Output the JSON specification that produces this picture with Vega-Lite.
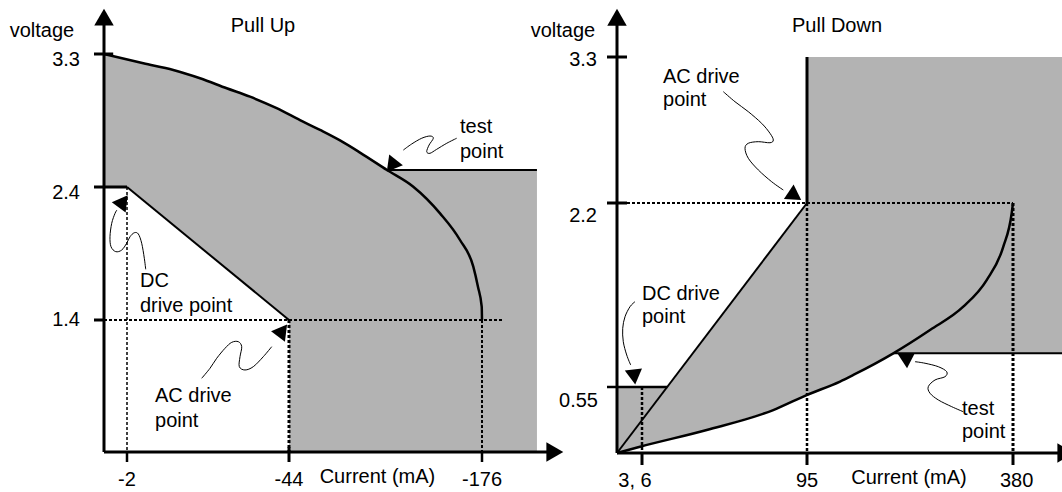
{
  "$schema": "https://vega.github.io/schema/vega-lite/v6.json",
  "width": 1062,
  "height": 492,
  "autosize": {"type": "none"},
  "padding": 0,
  "background": "#ffffff",
  "config": {"view": {"stroke": null}, "text": {"font": "Liberation Sans", "fontSize": 20, "color": "#000000"}},
  "datasets": {
    "L_fill": [
      {"k": 1, "x": 0, "y": 3.3}, {"k": 2, "x": -6.23, "y": 3.237}, {"k": 3, "x": -14.0, "y": 3.192},
      {"k": 4, "x": -20.93, "y": 3.136}, {"k": 5, "x": -27.85, "y": 3.068}, {"k": 6, "x": -33.89, "y": 3.011},
      {"k": 7, "x": -40.81, "y": 2.933}, {"k": 8, "x": -51.52, "y": 2.853}, {"k": 9, "x": -65.2, "y": 2.786},
      {"k": 10, "x": -78.88, "y": 2.715}, {"k": 11, "x": -92.56, "y": 2.633}, {"k": 12, "x": -111.03, "y": 2.515},
      {"k": 13, "x": -207, "y": 2.515}, {"k": 14, "x": -207, "y": 0}, {"k": 15, "x": -44, "y": 0},
      {"k": 16, "x": -44, "y": 1.4}, {"k": 17, "x": -2, "y": 2.4}, {"k": 18, "x": 0, "y": 2.4}
    ],
    "L_curve": [
      {"k": 1, "x": 0, "y": 3.3}, {"k": 2, "x": -6.23, "y": 3.237}, {"k": 3, "x": -14.0, "y": 3.192},
      {"k": 4, "x": -20.93, "y": 3.136}, {"k": 5, "x": -27.85, "y": 3.068}, {"k": 6, "x": -33.89, "y": 3.011},
      {"k": 7, "x": -40.81, "y": 2.933}, {"k": 8, "x": -51.52, "y": 2.853}, {"k": 9, "x": -65.2, "y": 2.786},
      {"k": 10, "x": -78.88, "y": 2.715}, {"k": 11, "x": -92.56, "y": 2.633}, {"k": 12, "x": -111.03, "y": 2.515},
      {"k": 13, "x": -129.0, "y": 2.402}, {"k": 14, "x": -147.3, "y": 2.202}, {"k": 15, "x": -160.95, "y": 2.0015},
      {"k": 16, "x": -170.05, "y": 1.801}, {"k": 17, "x": -173.27, "y": 1.648}, {"k": 18, "x": -175.8, "y": 1.5},
      {"k": 19, "x": -176, "y": 1.4}
    ],
    "L_segs": [
      {"x": 0, "y": 0, "x2": 0, "y2": 3.53, "w": "heavy"},
      {"x": 0, "y": 0, "x2": -215.5, "y2": 0, "w": "heavy"},
      {"x": 1, "y": 3.3, "x2": -0.8, "y2": 3.3, "w": "heavy"},
      {"x": 1, "y": 2.4, "x2": -2, "y2": 2.4, "w": "heavy"},
      {"x": 1, "y": 1.4, "x2": 0, "y2": 1.4, "w": "heavy"},
      {"x": -2, "y": 0, "x2": -2, "y2": -0.105, "w": "medium"},
      {"x": -44, "y": 0.05, "x2": -44, "y2": -0.105, "w": "heavy"},
      {"x": -176, "y": 0, "x2": -176, "y2": -0.105, "w": "medium"},
      {"x": -2, "y": 2.4, "x2": -44, "y2": 1.4, "w": "light"},
      {"x": -111.03, "y": 2.515, "x2": -207, "y2": 2.515, "w": "light"}
    ],
    "L_dots": [
      {"x": 0, "y": 1.4, "x2": -187.8, "y2": 1.4, "w": "light"},
      {"x": -2, "y": 2.4, "x2": -2, "y2": 0, "w": "fine"},
      {"x": -44, "y": 1.4, "x2": -44, "y2": 0, "w": "heavy"},
      {"x": -176, "y": 1.4, "x2": -176, "y2": 0, "w": "light"}
    ],
    "L_squig": [
      {"id": "dcL", "k": 1, "x": -6.85, "y": 1.781}, {"id": "dcL", "k": 2, "x": -6.49, "y": 1.864},
      {"id": "dcL", "k": 3, "x": -5.81, "y": 1.977}, {"id": "dcL", "k": 4, "x": -4.93, "y": 2.047},
      {"id": "dcL", "k": 5, "x": -3.89, "y": 2.056}, {"id": "dcL", "k": 6, "x": -2.78, "y": 2.026},
      {"id": "dcL", "k": 7, "x": -1.97, "y": 1.977}, {"id": "dcL", "k": 8, "x": -1.54, "y": 1.926},
      {"id": "dcL", "k": 9, "x": -1.02, "y": 1.914}, {"id": "dcL", "k": 10, "x": -0.61, "y": 1.951},
      {"id": "dcL", "k": 11, "x": -0.52, "y": 2.026}, {"id": "dcL", "k": 12, "x": -0.67, "y": 2.127},
      {"id": "dcL", "k": 13, "x": -0.96, "y": 2.202}, {"id": "dcL", "k": 14, "x": -1.13, "y": 2.227},
      {"id": "acL", "k": 1, "x": -21.37, "y": 0.782}, {"id": "acL", "k": 2, "x": -23.52, "y": 0.888},
      {"id": "acL", "k": 3, "x": -25.26, "y": 0.994}, {"id": "acL", "k": 4, "x": -27.41, "y": 1.1},
      {"id": "acL", "k": 5, "x": -29.15, "y": 1.163}, {"id": "acL", "k": 6, "x": -30.86, "y": 1.17},
      {"id": "acL", "k": 7, "x": -31.74, "y": 1.117}, {"id": "acL", "k": 8, "x": -31.3, "y": 1.011},
      {"id": "acL", "k": 9, "x": -31.12, "y": 0.905}, {"id": "acL", "k": 10, "x": -32.59, "y": 0.87},
      {"id": "acL", "k": 11, "x": -34.75, "y": 0.905}, {"id": "acL", "k": 12, "x": -37.34, "y": 1.011},
      {"id": "acL", "k": 13, "x": -39.52, "y": 1.117},
      {"id": "testL", "k": 1, "x": -158.7, "y": 2.73}, {"id": "testL", "k": 2, "x": -151.9, "y": 2.696},
      {"id": "testL", "k": 3, "x": -145.0, "y": 2.655}, {"id": "testL", "k": 4, "x": -140.4, "y": 2.628},
      {"id": "testL", "k": 5, "x": -138.2, "y": 2.639}, {"id": "testL", "k": 6, "x": -139.8, "y": 2.684},
      {"id": "testL", "k": 7, "x": -142.7, "y": 2.73}, {"id": "testL", "k": 8, "x": -140.4, "y": 2.745},
      {"id": "testL", "k": 9, "x": -134.8, "y": 2.73}, {"id": "testL", "k": 10, "x": -127.9, "y": 2.691},
      {"id": "testL", "k": 11, "x": -122.2, "y": 2.65}
    ],
    "L_arrows": [
      {"id": "axisUpL", "kind": "axis", "x": 0, "y": 3.532},
      {"id": "axisRightL", "kind": "axis", "x": -215.5, "y": 0},
      {"id": "dcL", "kind": "note", "x": -1.54, "y": 2.277},
      {"id": "acL", "kind": "note", "x": -41.93, "y": 1.267},
      {"id": "testL", "kind": "note", "x": -115.1, "y": 2.557}
    ],
    "L_text": [
      {"t": "Pull Up", "role": "title", "x": -37.26, "y": 3.491},
      {"t": "voltage", "role": "title", "x": 6.2, "y": 3.457},
      {"t": "Current (mA)", "role": "title", "x": -104.5, "y": -0.263},
      {"t": "3.3", "role": "ytick", "x": 2.4, "y": 3.259},
      {"t": "2.4", "role": "ytick", "x": 2.4, "y": 2.355},
      {"t": "1.4", "role": "ytick", "x": 2.4, "y": 1.4},
      {"t": "-2", "role": "xtick", "x": -2, "y": -0.295},
      {"t": "-44", "role": "xtick", "x": -44, "y": -0.295},
      {"t": "-176", "role": "xtick", "x": -176, "y": -0.295},
      {"t": "DC", "role": "note", "x": -5.37, "y": 1.693},
      {"t": "drive point", "role": "note", "x": -5.37, "y": 1.505},
      {"t": "AC drive", "role": "note", "x": -9.26, "y": 0.594},
      {"t": "point", "role": "note", "x": -9.26, "y": 0.329},
      {"t": "test", "role": "note", "x": -160.95, "y": 2.806},
      {"t": "point", "role": "note", "x": -160.95, "y": 2.637}
    ],
    "R_fill": [
      {"id": "big", "k": 1, "x": 0, "y": 0}, {"id": "big", "k": 2, "x": 95, "y": 2.2},
      {"id": "big", "k": 3, "x": 95, "y": 3.3}, {"id": "big", "k": 4, "x": 450, "y": 3.3},
      {"id": "big", "k": 5, "x": 450, "y": 0.852}, {"id": "big", "k": 6, "x": 214.4, "y": 0.852},
      {"id": "big", "k": 7, "x": 159.1, "y": 0.658}, {"id": "big", "k": 8, "x": 140.7, "y": 0.599},
      {"id": "big", "k": 9, "x": 94.8, "y": 0.483}, {"id": "big", "k": 10, "x": 76.8, "y": 0.358},
      {"id": "big", "k": 11, "x": 40.9, "y": 0.192}, {"id": "big", "k": 12, "x": 5.52, "y": 0.0525},
      {"id": "small", "k": 1, "x": 0, "y": 0.55}, {"id": "small", "k": 2, "x": 19.6, "y": 0.55},
      {"id": "small", "k": 3, "x": 0, "y": 0}
    ],
    "R_curve": [
      {"k": 1, "x": 0, "y": 0}, {"k": 2, "x": 5.52, "y": 0.0525}, {"k": 3, "x": 40.9, "y": 0.192},
      {"k": 4, "x": 76.8, "y": 0.358}, {"k": 5, "x": 94.8, "y": 0.483}, {"k": 6, "x": 140.7, "y": 0.599},
      {"k": 7, "x": 159.1, "y": 0.658}, {"k": 8, "x": 214.4, "y": 0.852}, {"k": 9, "x": 265.2, "y": 1.061},
      {"k": 10, "x": 311.2, "y": 1.27}, {"k": 11, "x": 343.6, "y": 1.509}, {"k": 12, "x": 366.6, "y": 1.808},
      {"k": 13, "x": 378.2, "y": 2.108}, {"k": 14, "x": 380, "y": 2.2}
    ],
    "R_segs": [
      {"x": 0, "y": 0, "x2": 0, "y2": 3.58, "w": "heavy"},
      {"x": 0, "y": 0, "x2": 449, "y2": 0, "w": "heavy"},
      {"x": -1, "y": 3.3, "x2": 2.4, "y2": 3.3, "w": "heavy"},
      {"x": -1, "y": 2.2, "x2": 2.4, "y2": 2.2, "w": "heavy"},
      {"x": -1, "y": 0.55, "x2": 19.6, "y2": 0.55, "w": "medium"},
      {"x": 6, "y": 0, "x2": 6, "y2": -0.1, "w": "heavy"},
      {"x": 95, "y": 0, "x2": 95, "y2": -0.1, "w": "heavy"},
      {"x": 380, "y": 0, "x2": 380, "y2": -0.1, "w": "heavy"},
      {"x": 95, "y": 2.2, "x2": 95, "y2": 3.3, "w": "heavy"},
      {"x": 0, "y": 0, "x2": 95, "y2": 2.2, "w": "light"},
      {"x": 214.4, "y": 0.852, "x2": 450, "y2": 0.852, "w": "light"}
    ],
    "R_dots": [
      {"x": 2.4, "y": 2.2, "x2": 380, "y2": 2.2, "w": "light"},
      {"x": 95, "y": 2.2, "x2": 95, "y2": 0, "w": "medium"},
      {"x": 380, "y": 2.2, "x2": 380, "y2": 0, "w": "heavy"},
      {"x": 6, "y": 0.55, "x2": 6, "y2": 0, "w": "medium"}
    ],
    "R_squig": [
      {"id": "acR", "k": 1, "x": 49.85, "y": 3.039}, {"id": "acR", "k": 2, "x": 56.16, "y": 2.963},
      {"id": "acR", "k": 3, "x": 63.34, "y": 2.888}, {"id": "acR", "k": 4, "x": 70.56, "y": 2.8},
      {"id": "acR", "k": 5, "x": 75.04, "y": 2.725}, {"id": "acR", "k": 6, "x": 76.82, "y": 2.675},
      {"id": "acR", "k": 7, "x": 75.04, "y": 2.654}, {"id": "acR", "k": 8, "x": 68.73, "y": 2.662},
      {"id": "acR", "k": 9, "x": 63.34, "y": 2.65}, {"id": "acR", "k": 10, "x": 61.56, "y": 2.612},
      {"id": "acR", "k": 11, "x": 63.34, "y": 2.537}, {"id": "acR", "k": 12, "x": 68.73, "y": 2.449},
      {"id": "acR", "k": 13, "x": 75.96, "y": 2.36}, {"id": "acR", "k": 14, "x": 82.22, "y": 2.298},
      {"id": "dcR", "k": 1, "x": 4.32, "y": 1.315}, {"id": "dcR", "k": 2, "x": 3.12, "y": 1.27},
      {"id": "dcR", "k": 3, "x": 1.92, "y": 1.18}, {"id": "dcR", "k": 4, "x": 1.37, "y": 1.076},
      {"id": "dcR", "k": 5, "x": 1.51, "y": 0.956}, {"id": "dcR", "k": 6, "x": 2.33, "y": 0.837},
      {"id": "dcR", "k": 7, "x": 3.29, "y": 0.747},
      {"id": "testR", "k": 1, "x": 311.2, "y": 0.344}, {"id": "testR", "k": 2, "x": 295.2, "y": 0.386},
      {"id": "testR", "k": 3, "x": 276.7, "y": 0.442}, {"id": "testR", "k": 4, "x": 265.2, "y": 0.498},
      {"id": "testR", "k": 5, "x": 262.8, "y": 0.553}, {"id": "testR", "k": 6, "x": 272.1, "y": 0.613},
      {"id": "testR", "k": 7, "x": 285.9, "y": 0.642}, {"id": "testR", "k": 8, "x": 288.3, "y": 0.687},
      {"id": "testR", "k": 9, "x": 276.7, "y": 0.732}, {"id": "testR", "k": 10, "x": 258.3, "y": 0.763},
      {"id": "testR", "k": 11, "x": 244.4, "y": 0.777}
    ],
    "R_arrows": [
      {"id": "axisUpR", "kind": "axis", "x": 0, "y": 3.579},
      {"id": "axisRightR", "kind": "axis", "x": 449.2, "y": 0},
      {"id": "acR", "kind": "note", "x": 87.4, "y": 2.264},
      {"id": "dcR", "kind": "note", "x": 4.08, "y": 0.662},
      {"id": "testR", "kind": "note", "x": 232.7, "y": 0.807}
    ],
    "R_text": [
      {"t": "Pull Down", "role": "title", "x": 136.5, "y": 3.534},
      {"t": "voltage", "role": "title", "x": -5.4, "y": 3.496},
      {"t": "Current (mA)", "role": "title", "x": 236.1, "y": -0.208},
      {"t": "3, 6", "role": "xtick", "x": 4.32, "y": -0.233},
      {"t": "95", "role": "xtick", "x": 95, "y": -0.233},
      {"t": "380", "role": "xtick", "x": 385, "y": -0.233},
      {"t": "3.3", "role": "ytick", "x": -2, "y": 3.277},
      {"t": "2.2", "role": "ytick", "x": -2, "y": 2.083},
      {"t": "0.55", "role": "ytick", "x": -1.9, "y": 0.433},
      {"t": "AC drive", "role": "note", "x": 17.33, "y": 3.149},
      {"t": "point", "role": "note", "x": 17.33, "y": 2.976},
      {"t": "DC drive", "role": "note", "x": 6, "y": 1.384},
      {"t": "point", "role": "note", "x": 6, "y": 1.178},
      {"t": "test", "role": "note", "x": 309.4, "y": 0.367},
      {"t": "point", "role": "note", "x": 309.4, "y": 0.175}
    ]
  },
  "layer": [
    {
      "encoding": {
        "x": {"field": "x", "type": "quantitative", "axis": null, "scale": {"type": "linear", "domain": [-220, -176, -44, -2, 0, 10], "range": [560, 482, 289, 127, 104, 4]}},
        "y": {"field": "y", "type": "quantitative", "axis": null, "scale": {"type": "linear", "domain": [-0.4, 0, 1.4, 2.4, 3.3, 3.6], "range": [490, 452, 320, 187, 54, 10]}}
      },
      "layer": [
        {"data": {"name": "L_fill"}, "mark": {"type": "line", "fill": "#b3b3b3", "stroke": "#b3b3b3", "strokeWidth": 0}, "encoding": {"order": {"field": "k", "type": "quantitative"}}},
        {"data": {"name": "L_dots"}, "mark": {"type": "rule", "color": "#000000", "strokeDash": [3, 2]}, "encoding": {"x2": {"field": "x2"}, "y2": {"field": "y2"}, "strokeWidth": {"field": "w", "type": "nominal", "legend": null, "scale": {"type": "ordinal", "domain": ["fine", "light", "medium", "heavy"], "range": [1.5, 2, 2.5, 3]}}}},
        {"data": {"name": "L_segs"}, "mark": {"type": "rule", "color": "#000000"}, "encoding": {"x2": {"field": "x2"}, "y2": {"field": "y2"}, "strokeWidth": {"field": "w", "type": "nominal", "legend": null, "scale": {"type": "ordinal", "domain": ["fine", "light", "medium", "heavy"], "range": [1.5, 2, 2.5, 3]}}}},
        {"data": {"name": "L_curve"}, "mark": {"type": "line", "color": "#000000", "strokeWidth": 2.5, "interpolate": "monotone"}, "encoding": {"order": {"field": "k", "type": "quantitative"}}},
        {"data": {"name": "L_squig"}, "mark": {"type": "line", "color": "#000000", "strokeWidth": 1, "interpolate": "cardinal"}, "encoding": {"detail": {"field": "id"}, "order": {"field": "k", "type": "quantitative"}}},
        {"data": {"name": "L_arrows"}, "mark": {"type": "point", "shape": "triangle", "filled": true, "color": "#000000", "opacity": 1}, "encoding": {
          "angle": {"field": "id", "type": "nominal", "legend": null, "scale": {"type": "ordinal", "domain": ["axisUpL", "axisRightL", "dcL", "acL", "testL", "axisUpR", "axisRightR", "acR", "dcR", "testR"], "range": [0, 90, 37, 37, 218, 0, 90, 124, 173, 297]}},
          "size": {"field": "kind", "type": "nominal", "legend": null, "scale": {"type": "ordinal", "domain": ["axis", "note"], "range": [380, 300]}}}},
        {"data": {"name": "L_text"}, "transform": [{"filter": "datum.role == 'note'"}], "mark": {"type": "text", "align": "left", "baseline": "middle"}, "encoding": {"text": {"field": "t"}}},
        {"data": {"name": "L_text"}, "transform": [{"filter": "datum.role == 'ytick'"}], "mark": {"type": "text", "align": "right", "baseline": "middle"}, "encoding": {"text": {"field": "t"}}},
        {"data": {"name": "L_text"}, "transform": [{"filter": "datum.role == 'title' || datum.role == 'xtick'"}], "mark": {"type": "text", "align": "center", "baseline": "middle"}, "encoding": {"text": {"field": "t"}}}
      ]
    },
    {
      "encoding": {
        "x": {"field": "x", "type": "quantitative", "axis": null, "scale": {"type": "linear", "domain": [-10, 0, 6, 95, 380, 450], "range": [517, 617, 642, 807, 1013, 1063.6]}},
        "y": {"field": "y", "type": "quantitative", "axis": null, "scale": {"type": "linear", "domain": [-0.4, 0, 0.55, 2.2, 3.3, 3.7], "range": [501, 453, 387, 203, 57, 4]}}
      },
      "layer": [
        {"data": {"name": "R_fill"}, "mark": {"type": "line", "fill": "#b3b3b3", "stroke": "#b3b3b3", "strokeWidth": 0}, "encoding": {"detail": {"field": "id"}, "order": {"field": "k", "type": "quantitative"}}},
        {"data": {"name": "R_dots"}, "mark": {"type": "rule", "color": "#000000", "strokeDash": [3, 2]}, "encoding": {"x2": {"field": "x2"}, "y2": {"field": "y2"}, "strokeWidth": {"field": "w", "type": "nominal", "legend": null, "scale": {"type": "ordinal", "domain": ["fine", "light", "medium", "heavy"], "range": [1.5, 2, 2.5, 3]}}}},
        {"data": {"name": "R_segs"}, "mark": {"type": "rule", "color": "#000000"}, "encoding": {"x2": {"field": "x2"}, "y2": {"field": "y2"}, "strokeWidth": {"field": "w", "type": "nominal", "legend": null, "scale": {"type": "ordinal", "domain": ["fine", "light", "medium", "heavy"], "range": [1.5, 2, 2.5, 3]}}}},
        {"data": {"name": "R_curve"}, "mark": {"type": "line", "color": "#000000", "strokeWidth": 2.5, "interpolate": "monotone"}, "encoding": {"order": {"field": "k", "type": "quantitative"}}},
        {"data": {"name": "R_squig"}, "mark": {"type": "line", "color": "#000000", "strokeWidth": 1, "interpolate": "cardinal"}, "encoding": {"detail": {"field": "id"}, "order": {"field": "k", "type": "quantitative"}}},
        {"data": {"name": "R_arrows"}, "mark": {"type": "point", "shape": "triangle", "filled": true, "color": "#000000", "opacity": 1}, "encoding": {
          "angle": {"field": "id", "type": "nominal", "legend": null, "scale": {"type": "ordinal", "domain": ["axisUpL", "axisRightL", "dcL", "acL", "testL", "axisUpR", "axisRightR", "acR", "dcR", "testR"], "range": [0, 90, 37, 37, 218, 0, 90, 124, 173, 297]}},
          "size": {"field": "kind", "type": "nominal", "legend": null, "scale": {"type": "ordinal", "domain": ["axis", "note"], "range": [380, 300]}}}},
        {"data": {"name": "R_text"}, "transform": [{"filter": "datum.role == 'note'"}], "mark": {"type": "text", "align": "left", "baseline": "middle"}, "encoding": {"text": {"field": "t"}}},
        {"data": {"name": "R_text"}, "transform": [{"filter": "datum.role == 'ytick'"}], "mark": {"type": "text", "align": "right", "baseline": "middle"}, "encoding": {"text": {"field": "t"}}},
        {"data": {"name": "R_text"}, "transform": [{"filter": "datum.role == 'title' || datum.role == 'xtick'"}], "mark": {"type": "text", "align": "center", "baseline": "middle"}, "encoding": {"text": {"field": "t"}}}
      ]
    }
  ],
  "resolve": {"scale": {"x": "independent", "y": "independent"}}
}
